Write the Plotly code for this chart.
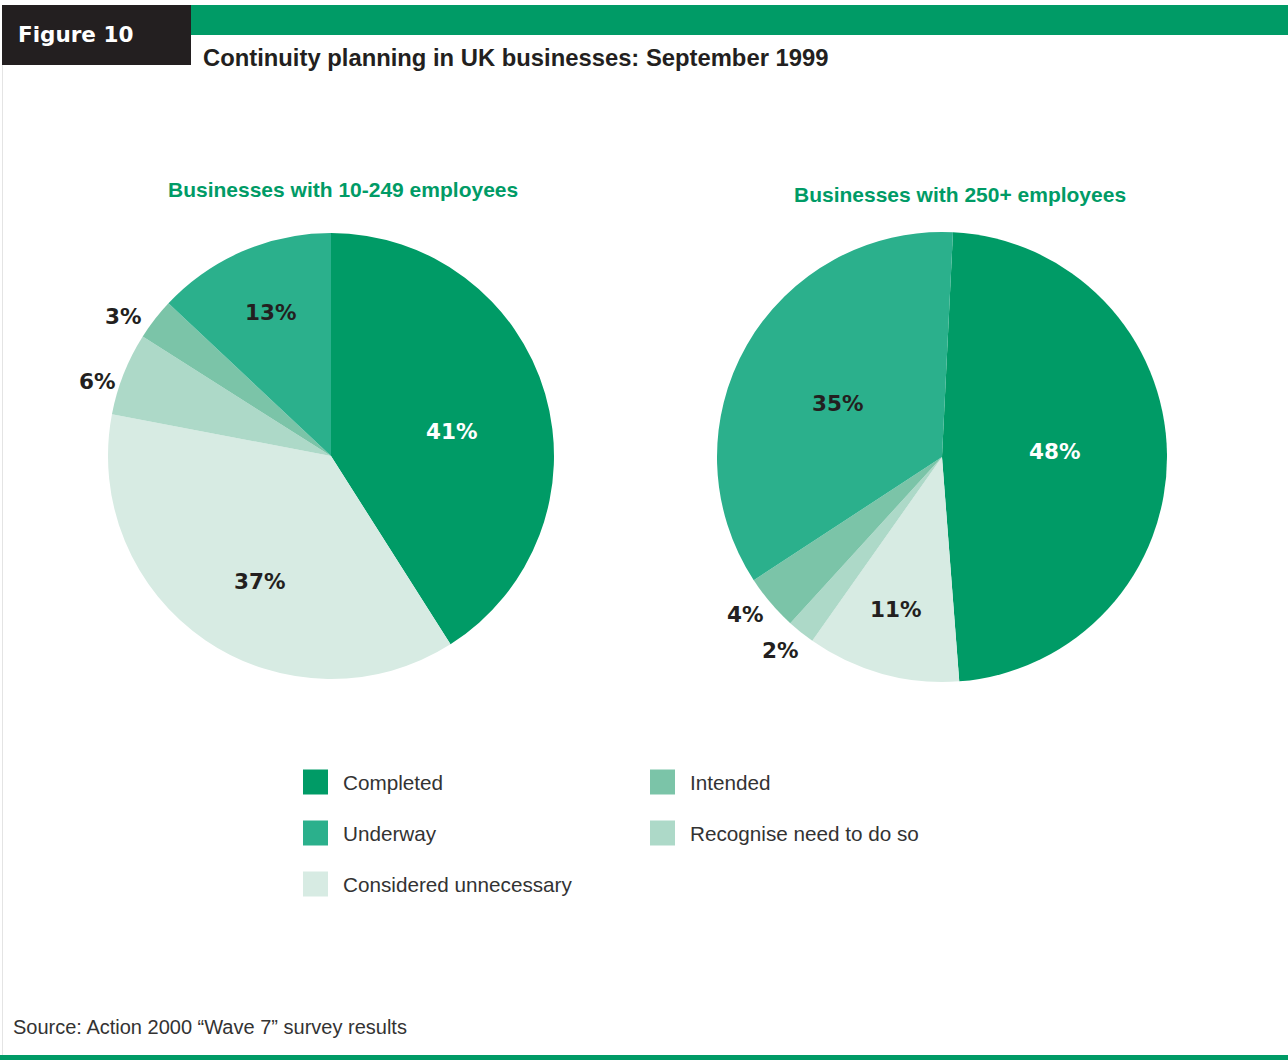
import math
import plotly.graph_objects as go

W, H = 1288, 1061

# Survey categories and shares (%), clockwise from 12 o'clock
categories = ["Completed", "Considered unnecessary", "Recognise need to do so", "Intended", "Underway"]
small_firms = [41, 37, 6, 3, 13]     # Businesses with 10-249 employees
large_firms = [48, 11, 2, 4, 35]     # Businesses with 250+ employees

legend_order = [["Completed", "Underway", "Considered unnecessary"],
                ["Intended", "Recognise need to do so"]]

colors = {
    "Completed": "#009B66",
    "Underway": "#2BB08C",
    "Intended": "#7BC4A8",
    "Recognise need to do so": "#ADD9C8",
    "Considered unnecessary": "#D7EBE3",
}
label_colors = {
    "Completed": "white",
}

GREEN = "#009B66"
DARK = "#231F20"


def px(x):
    return x / W


def py(y):
    return 1 - y / H


# pie geometry in pixels: centre x, centre y, radius, rotation;
# label placement as radius fraction and angular nudge (degrees) per slice
pies = [
    dict(values=small_firms, cx=331, cy=456, r=223, rot=0,
         title="Businesses with 10-249 employees", tx=343, ty=190,
         lab_r=[0.55, 0.65, 1.10, 1.12, 0.70],
         lab_da=[4.9, -4.5, -4.0, -3.8, 0.6]),
    dict(values=large_firms, cx=942, cy=457, r=225, rot=2.8,
         title="Businesses with 250+ employees", tx=960, ty=195,
         lab_r=[0.50, 0.71, 1.12, 1.12, 0.52],
         lab_da=[-1.8, 1.7, 1.0, 1.7, -2.6]),
]

fig = go.Figure()
annotations = []
shapes = []

for p in pies:
    fig.add_trace(go.Pie(
        labels=categories,
        values=p["values"],
        sort=False,
        direction="clockwise",
        rotation=p["rot"],
        marker=dict(colors=[colors[c] for c in categories], line=dict(width=0)),
        textinfo="none",
        hoverinfo="label+percent",
        showlegend=False,
        domain=dict(x=[px(p["cx"] - p["r"]), px(p["cx"] + p["r"])],
                    y=[py(p["cy"] + p["r"]), py(p["cy"] - p["r"])]),
    ))
    # value labels placed around each slice's mid-angle
    total = sum(p["values"])
    start = p["rot"]
    for cat, v, fr, da in zip(categories, p["values"], p["lab_r"], p["lab_da"]):
        mid = math.radians(start + 360 * v / total / 2 + da)
        start += 360 * v / total
        x = p["cx"] + fr * p["r"] * math.sin(mid)
        y = p["cy"] - fr * p["r"] * math.cos(mid)
        annotations.append(dict(
            x=px(x), y=py(y), xref="paper", yref="paper",
            text=f"<b>{v}%</b>", showarrow=False,
            xanchor="center", yanchor="middle",
            font=dict(family="DejaVu Sans", size=21.5, color=label_colors.get(cat, DARK)),
        ))
    annotations.append(dict(
        x=px(p["tx"]), y=py(p["ty"]), xref="paper", yref="paper",
        text=f"<b>{p['title']}</b>", showarrow=False,
        xanchor="center", yanchor="middle",
        font=dict(family="Liberation Sans", size=21, color=GREEN),
    ))

# header blocks
shapes.append(dict(type="rect", xref="paper", yref="paper",
                   x0=px(2), x1=px(191), y0=py(65), y1=py(5),
                   fillcolor=DARK, line=dict(width=0), layer="below"))
shapes.append(dict(type="rect", xref="paper", yref="paper",
                   x0=px(191), x1=1, y0=py(35), y1=py(5),
                   fillcolor=GREEN, line=dict(width=0), layer="below"))
# left frame rule and bottom rule
shapes.append(dict(type="line", xref="paper", yref="paper",
                   x0=px(2.5), x1=px(2.5), y0=py(65), y1=py(1055),
                   line=dict(color="#E4E4E4", width=1)))
shapes.append(dict(type="rect", xref="paper", yref="paper",
                   x0=0, x1=1, y0=py(1060), y1=py(1055),
                   fillcolor=GREEN, line=dict(width=0)))

annotations.append(dict(x=px(16), y=py(34), xref="paper", yref="paper",
                        text="<b>Figure 10</b>", showarrow=False,
                        xanchor="left", yanchor="middle",
                        font=dict(family="DejaVu Sans", size=21.5, color="white")))
annotations.append(dict(x=px(201), y=py(58), xref="paper", yref="paper",
                        text="<b>Continuity planning in UK businesses: September 1999</b>",
                        showarrow=False, xanchor="left", yanchor="middle",
                        font=dict(family="Liberation Sans", size=23.8, color=DARK)))

# legend
col_x = [303, 650]
row_y = [782, 833, 884]
for ci, col in enumerate(legend_order):
    for ri, cat in enumerate(col):
        x0, yc = col_x[ci], row_y[ri]
        shapes.append(dict(type="rect", xref="paper", yref="paper",
                           x0=px(x0), x1=px(x0 + 25), y0=py(yc + 12.5), y1=py(yc - 12.5),
                           fillcolor=colors[cat], line=dict(width=0)))
        annotations.append(dict(x=px(x0 + 38), y=py(yc), xref="paper", yref="paper",
                                text=cat, showarrow=False,
                                xanchor="left", yanchor="middle",
                                font=dict(family="Liberation Sans", size=20.7, color="#333333")))

annotations.append(dict(x=px(11), y=py(1027), xref="paper", yref="paper",
                        text="Source: Action 2000 \u201cWave 7\u201d survey results",
                        showarrow=False, xanchor="left", yanchor="middle",
                        font=dict(family="Liberation Sans", size=20, color="#333333")))

fig.update_layout(
    width=W, height=H,
    margin=dict(l=0, r=0, t=0, b=0),
    paper_bgcolor="white",
    plot_bgcolor="white",
    annotations=annotations,
    shapes=shapes,
)

fig.write_html("out.html", config=dict(displayModeBar=False))
